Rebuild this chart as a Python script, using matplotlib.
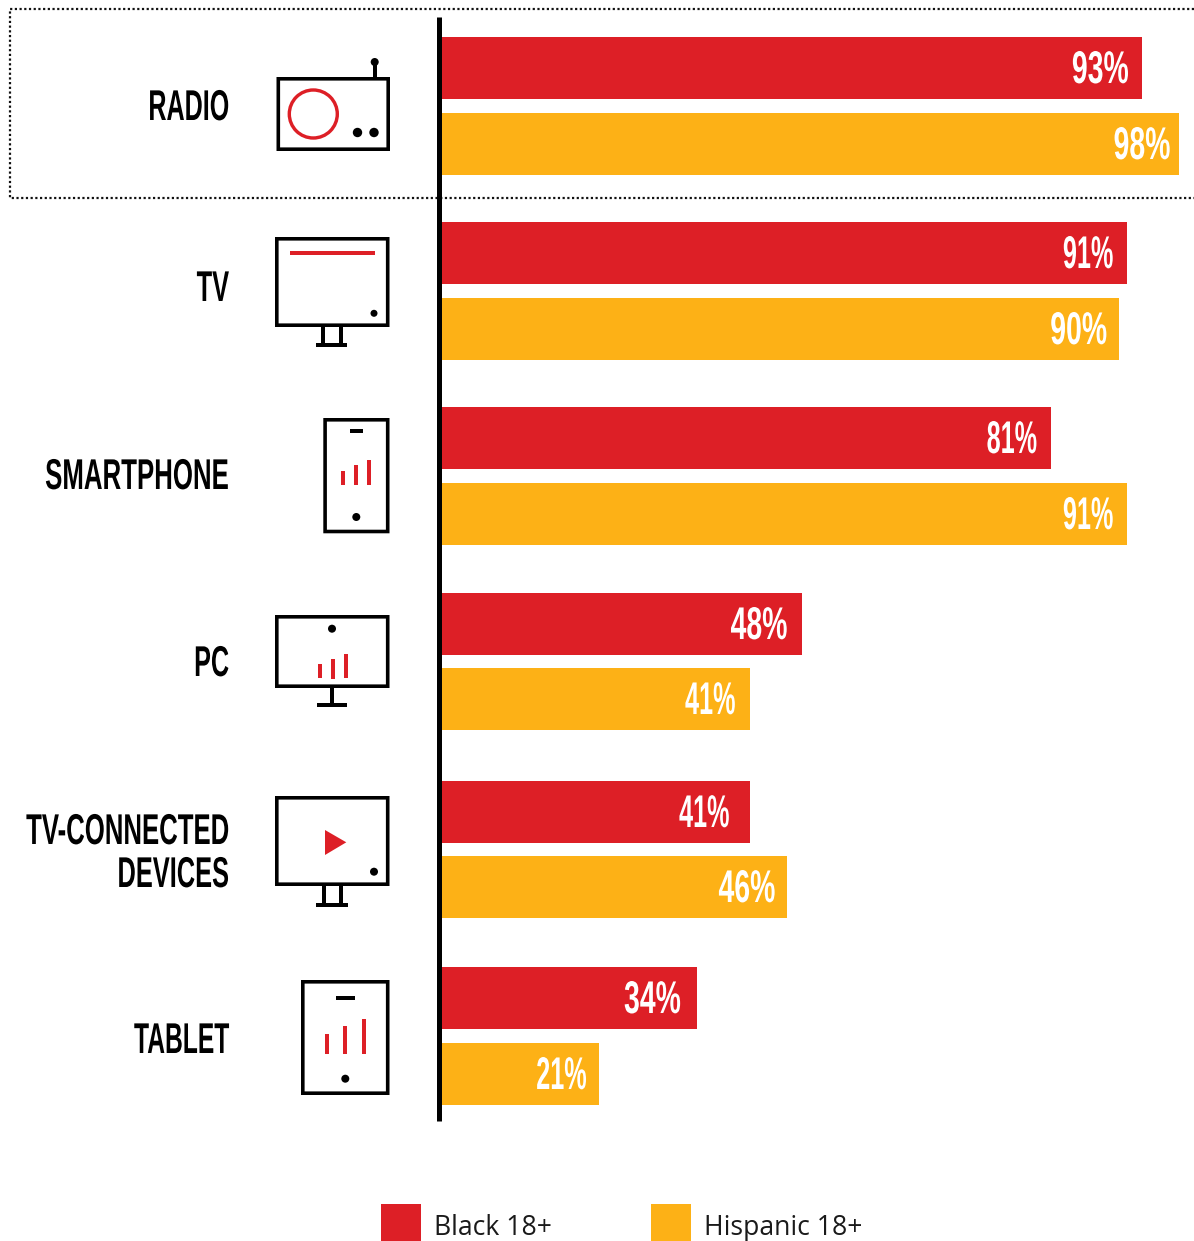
#!/usr/bin/env python3
"""Device reach among Black and Hispanic adults, horizontal paired bars with icons."""

import matplotlib
matplotlib.use("Agg")
import matplotlib.pyplot as plt
from matplotlib.patches import Circle, Polygon, Rectangle
from matplotlib.patheffects import AbstractPathEffect
from matplotlib.transforms import Affine2D

WIDTH, HEIGHT = 1194, 1241
DPI = 100

CATEGORIES = ["RADIO", "TV", "SMARTPHONE", "PC", "TV-CONNECTED\nDEVICES", "TABLET"]
BLACK_18 = [93, 91, 81, 48, 41, 34]
HISPANIC_18 = [98, 90, 91, 41, 46, 21]
SERIES_NAMES = ["Black 18+", "Hispanic 18+"]

RED = "#DD1F26"
YELLOW = "#FDB116"

# layout, in pixels of the output image
ZERO_X = 440.4
PX_PER_PCT = 7.54
BAR_H = 62
RED_TOPS = [37, 222, 407, 593, 781, 967]
YELLOW_TOPS = [113, 298, 483, 668, 856, 1043]
RED_PADS = [13, 13, 14, 15, 20, 16]
YELLOW_PADS = [9, 12, 13, 14, 12, 12]
CAT_BASELINES = [120, 301, 489, 676, 844, 1053]
# how narrow each label line is set, per line
CAT_SQUEEZE = [[0.583], [0.59], [0.60], [0.585], [0.598, 0.59], [0.572]]

CAP_PT = 31     # cap height of category labels, as a font size before squeezing
DIGIT_PT = 33   # same for the value labels


class TallText(AbstractPathEffect):
    """Stretch text upward from its baseline, for a condensed look."""

    def __init__(self, sy):
        super().__init__()
        self.sy = sy

    def draw_path(self, renderer, gc, tpath, affine, rgbFace=None):
        base = affine.transform([(0, 0)])[0][1]
        stretch = Affine2D().translate(0, -base).scale(1, self.sy).translate(0, base)
        renderer.draw_path(gc, tpath, affine + stretch, rgbFace)


def px(n):
    return n * 72 / DPI


def condensed(squeeze, full_pt):
    """Font size and path effect for text narrowed to the given fraction."""
    return dict(fontsize=full_pt * squeeze, family="Liberation Sans", fontweight="bold",
                path_effects=[TallText(1 / squeeze)])


fig = plt.figure(figsize=(WIDTH / DPI, HEIGHT / DPI), dpi=DPI, facecolor="white")

# bars: x in percent, y in image pixels
ax = fig.add_axes([0, 0, 1, 1])
ax.set_xlim(-ZERO_X / PX_PER_PCT, (WIDTH - ZERO_X) / PX_PER_PCT)
ax.set_ylim(HEIGHT, 0)
ax.axis("off")

for values, tops, pads, color in [
    (BLACK_18, RED_TOPS, RED_PADS, RED),
    (HISPANIC_18, YELLOW_TOPS, YELLOW_PADS, YELLOW),
]:
    centers = [t + BAR_H / 2 for t in tops]
    ax.barh(centers, values, height=BAR_H, color=color, linewidth=0)
    for v, c, pad in zip(values, centers, pads):
        label = f"{v}%"
        ax.annotate(label, xy=(v, c), xytext=(-pad, -15), textcoords="offset pixels",
                    ha="right", va="baseline", color="white",
                    **condensed(0.55 if "1" in label else 0.62, DIGIT_PT))

# everything else: image pixels
deco = fig.add_axes([0, 0, 1, 1])
deco.set_xlim(0, WIDTH)
deco.set_ylim(HEIGHT, 0)
deco.axis("off")
deco.patch.set_alpha(0)

# dotted frame around the radio row
dots = dict(color="#111111", linewidth=px(2.2), linestyle=(0, (1, 1.14)), dash_capstyle="butt")
deco.plot([WIDTH, 9.5, 9.5, WIDTH], [9, 9, 197.5, 197.5], **dots)

# baseline of the bars
deco.plot([439, 439], [17, 1121], color="black", linewidth=px(5), solid_capstyle="butt")

for cat, base, squeezes in zip(CATEGORIES, CAT_BASELINES, CAT_SQUEEZE):
    for i, (line, squeeze) in enumerate(zip(cat.split("\n"), squeezes)):
        deco.text(229, base + i * 43, line, ha="right", va="baseline", color="black",
                  **condensed(squeeze, CAP_PT))


def outline(x0, y0, x1, y1, lw=3.6):
    deco.add_patch(Rectangle((x0 + lw / 2, y0 + lw / 2), x1 - x0 - lw, y1 - y0 - lw,
                             fill=False, edgecolor="black", linewidth=px(lw),
                             joinstyle="miter", snap=False))


def solid(x0, y0, x1, y1, color="black"):
    deco.add_patch(Rectangle((x0, y0), x1 - x0, y1 - y0, facecolor=color, linewidth=0))


def dot(x, y, r=4):
    deco.add_patch(Circle((x, y), r, facecolor="black", linewidth=0))


# radio
outline(276.5, 77, 390, 151)
deco.add_patch(Circle((313.3, 114), 24, fill=False, edgecolor=RED, linewidth=px(3.4)))
dot(357.5, 132.5, 4.7)
dot(374, 132.5, 4.7)
solid(373, 62, 377, 78)
dot(374.7, 62)

# tv
outline(275, 237, 389.5, 327)
solid(290, 251, 375, 255, RED)
dot(374, 313.3, 3.5)
solid(321, 326, 325, 345)
solid(339, 326, 343, 345)
solid(316, 343, 347, 347)

# smartphone
outline(323.3, 418, 389.5, 533.3)
solid(350, 429, 363, 433)
solid(341, 471, 345, 485, RED)
solid(354, 465, 358, 485, RED)
solid(367, 460, 371, 485, RED)
dot(356.3, 517)

# pc
outline(275, 615, 389.5, 688)
dot(332, 628.7)
solid(318, 664, 322, 678, RED)
solid(331, 659, 335, 679, RED)
solid(344, 654, 348, 678, RED)
solid(330, 687, 334, 705)
solid(317, 703, 347, 707)

# tv-connected device
outline(275, 796, 389.5, 886)
deco.add_patch(Polygon([(325, 830), (325, 855), (346.3, 842.3)], facecolor=RED, linewidth=0))
dot(374, 871.7)
solid(322, 885, 326, 905)
solid(339, 885, 343, 905)
solid(316, 903, 348, 907)

# tablet
outline(301, 980, 389.5, 1095)
solid(336, 996, 355, 1000)
solid(325, 1034, 329, 1054, RED)
solid(343, 1026, 347, 1054, RED)
solid(362, 1019, 366, 1054, RED)
dot(345.3, 1078.7)

# legend
for name, color, box_x, text_x in zip(SERIES_NAMES, [RED, YELLOW], [381, 651], [434, 704]):
    solid(box_x, 1204, box_x + 40, 1241, color)
    deco.text(text_x, 1235, name, ha="left", va="baseline", color="#1a1a1a",
              fontsize=19.1, family="Open Sans")

fig.savefig("out.png", dpi=DPI, facecolor="white")
